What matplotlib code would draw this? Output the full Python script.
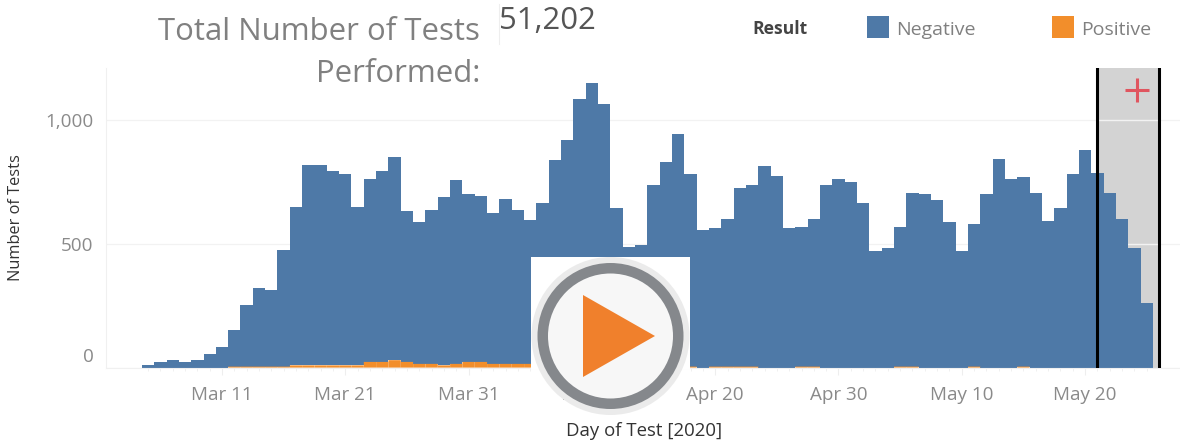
import matplotlib
matplotlib.use("Agg")
import numpy as np
import pandas as pd
import matplotlib.pyplot as plt
import matplotlib.dates as mdates
from matplotlib.patches import Rectangle, Circle, Polygon
from matplotlib.transforms import ScaledTranslation

plt.rcParams['font.family'] = ['Open Sans', 'DejaVu Sans']

# daily counts
start_day = "2020-03-05"
negative_total = [11, 23, 30, 23, 30, 54, 85, 153, 253, 321, 314, 476, 650, 817, 817, 794, 781, 650, 762, 794, 849,
                  632, 587, 637, 688, 757, 700, 693, 625, 681, 637, 595, 664, 839, 918, 1086, 1149, 1067, 645, 489,
                  496, 738, 831, 943, 781, 556, 563, 601, 726, 738, 813, 774, 563, 570, 601, 738, 762, 750, 664, 470,
                  482, 570, 707, 700, 676, 587, 470, 582, 700, 843, 762, 769, 707, 594, 644, 781, 880, 788, 707, 601,
                  482, 259]
positive = [0, 0, 0, 0, 0, 0, 0, 4, 4, 4, 4, 4, 9, 9, 9, 9, 9, 9, 23, 23, 30, 23, 15, 15, 9, 15, 23, 23, 15, 15, 15,
            15, 15, 15, 15, 15, 15, 15, 10, 6, 6, 6, 6, 6, 4, 0, 4, 4, 4, 4, 0, 0, 0, 4, 4, 0, 0, 0, 0, 0,
            0, 4, 4, 0, 0, 0, 0, 4, 0, 0, 0, 4, 0, 0, 0, 0, 0, 0, 0, 0, 0, 0]
tick_labels = ["Mar 11", "Mar 21", "Mar 31", "Apr 10", "Apr 20", "Apr 30", "May 10", "May 20"]
legend_labels = ["Negative", "Positive"]
total_tests = "51,202"

BLUE = "#4e79a7"
ORANGE = "#f28e2b"
W, H = 1180, 448

days = pd.date_range(start_day, periods=len(negative_total))
x = mdates.date2num(days)

fig = plt.figure(figsize=(W / 100, H / 100), dpi=100)
# axes runs from px 106 to 1180, y from 68 to 367.6
ax = fig.add_axes([106 / W, 1 - 367.6 / H, (W - 106) / W, 299.6 / H])

# 1 px = 10/123.3 day, Mar 11 sits at px 222
day_per_px = 10 / 123.3
x0 = mdates.date2num(pd.Timestamp("2020-03-11")) - (222 - 106) * day_per_px
ax.set_xlim(x0, x0 + (W - 106) * day_per_px)
ax.set_ylim(0, 299.6 / 0.2475)

ax.set_axisbelow(True)
ax.grid(axis="y", color="#f2f2f2", lw=0.9)
ax.set_yticks([0, 500, 1000])

# grey selection band with its two black edges
band_l = x0 + (1097 - 106) * day_per_px
band_r = x0 + (1159 - 106) * day_per_px
ax.axvspan(band_l, band_r, color="#d3d3d3", zorder=0.5, lw=0)
for i in [500, 1000]:
    ax.plot([band_l, band_r], [i, i], color="#f2f2f2", lw=0.9, zorder=0.6)

ax.bar(x, np.array(negative_total) - np.array(positive), bottom=positive, width=1.0, color=BLUE, lw=0, zorder=2)
# thin orange bars vanish when snapped to whole pixels, so draw them on top unsnapped
ax.bar(x, positive, width=1.0, color=ORANGE, lw=0, zorder=2.5, snap=False)

ax.axvline(band_l, color="black", lw=2.2, zorder=3)
ax.axvline(band_r, color="black", lw=2.2, zorder=3)

for s in ["top", "right"]:
    ax.spines[s].set_visible(False)
for s in ["left", "bottom"]:
    ax.spines[s].set_color("#f0f0f0")

ticks = mdates.date2num(pd.date_range("2020-03-11", periods=len(tick_labels), freq="10D"))
ax.set_xticks(ticks)
ax.set_xticklabels(tick_labels, fontsize=13.6, color="#8a8a8a")
ax.set_xticks(x, minor=True)
ax.tick_params(axis="x", which="major", length=5, color="#eeeeee", pad=8)
ax.tick_params(axis="x", which="minor", length=2, color="#eeeeee")
ax.tick_params(axis="y", length=0, pad=9, labelsize=13.6, labelcolor="#8a8a8a")
ax.set_yticklabels(["0", "500", "1,000"])
zero_label = ax.get_yticklabels()[0]
zero_label.set_va("bottom")
zero_label.set_transform(zero_label.get_transform() + ScaledTranslation(0, 2 / 100, fig.dpi_scale_trans))

fig.text(16 / W, 1 - 218 / H, "Number of Tests", rotation=90, fontsize=11.8, color="#333333", ha="center", va="center")
fig.text(644 / W, 1 - 431 / H, "Day of Test [2020]", fontsize=13.4, color="#333333", ha="center", va="center")

# heading
fig.text(480 / W, 1 - 32 / H, "Total Number of Tests", fontsize=22.4, color="#808080", ha="right", va="center")
fig.text(480 / W, 1 - 74 / H, "Performed:", fontsize=22.4, color="#808080", ha="right", va="center")
fig.text(499 / W, 1 - 21 / H, total_tests, fontsize=22.4, color="#555555", ha="left", va="center")
fig.add_artist(plt.Line2D([499 / W, 499 / W], [1 - 44 / H, 1 - 4 / H], color="#eeeeee", lw=0.8))

# legend
fig.text(752 / W, 1 - 29 / H, "Result", fontsize=12.6, color="#444444", fontweight="bold", ha="left", va="center")
fig.patches.append(Rectangle((867 / W, 1 - 38 / H), 22 / W, 22 / H, transform=fig.transFigure, color=BLUE, lw=0))
fig.patches.append(Rectangle((1052 / W, 1 - 38 / H), 22 / W, 22 / H, transform=fig.transFigure, color=ORANGE, lw=0))
fig.text(896 / W, 1 - 30 / H, legend_labels[0], fontsize=14, color="#808080", ha="left", va="center")
fig.text(1081 / W, 1 - 30 / H, legend_labels[1], fontsize=14, color="#808080", ha="left", va="center")

# play button and plus sign overlay, drawn in pixel coordinates
ov = fig.add_axes([0, 0, 1, 1], facecolor="none")
ov.set_xlim(0, W)
ov.set_ylim(H, 0)
ov.axis("off")
ov.plot([1137], [90], marker="+", ms=17, mew=2.2, color="#e0555f")
ov.add_patch(Rectangle((531, 257), 159, 112, color="white", lw=0))
ov.add_patch(Circle((610.5, 336), 79, color="#ebebeb", lw=0))
ov.add_patch(Circle((610.5, 336), 73, color="#85888c", lw=0))
ov.add_patch(Circle((610.5, 336), 62.5, color="#f7f7f7", lw=0))
ov.add_patch(Polygon([[583, 295], [583, 377], [655, 336]], closed=True, color="#f0802c", lw=0))

fig.savefig("out.png", dpi=100)
